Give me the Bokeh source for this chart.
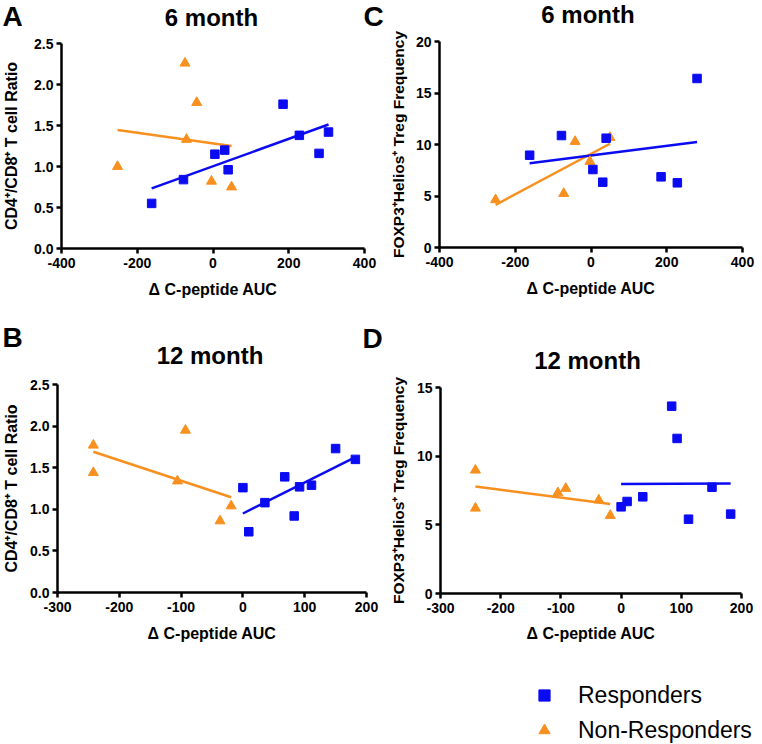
import numpy as np
from bokeh.plotting import figure
from bokeh.models import (Range1d, FixedTicker, PrintfTickFormatter,
                          Legend, LegendItem)
from bokeh.core.properties import value
from bokeh.layouts import column, row
from bokeh.embed import file_html
from bokeh.resources import INLINE

FONT = "Liberation Sans"
BLUE = "#0b0bf2"
ORANGE = "#f7901e"

# ---------------- data ----------------
# 6 month, CD4+/CD8+ ratio (panel A)
a_resp_x = [-162, -78, 5, 31, 40, 185, 228, 280, 305]
a_resp_y = [0.55, 0.84, 1.15, 1.20, 0.96, 1.76, 1.38, 1.16, 1.42]
a_non_x = [-252, -74, -43, -70, -4, 49]
a_non_y = [1.00, 2.26, 1.78, 1.33, 0.82, 0.75]

# 6 month, FOXP3+Helios+ Treg frequency (panel C)
c_resp_x = [-162, -78, 5, 31, 40, 185, 228, 280]
c_resp_y = [8.96, 10.87, 7.57, 6.34, 10.61, 6.86, 6.28, 16.41]
c_non_x = [-252, -72, -42, -3, 50]
c_non_y = [4.63, 5.24, 10.29, 8.35, 10.68]

# 12 month, CD4+/CD8+ ratio (panel B)
b_resp_x = [0, 9.5, 35.6, 67.7, 83, 91.7, 111, 150, 182]
b_resp_y = [1.26, 0.73, 1.08, 1.39, 0.92, 1.27, 1.29, 1.73, 1.60]
b_non_x = [-242, -242, -106, -93, -37, -19]
b_non_y = [1.77, 1.44, 1.34, 1.95, 0.86, 1.04]

# 12 month, FOXP3+Helios+ Treg frequency (panel D)
d_resp_x = [0, 10, 36, 84, 93, 112, 151, 182]
d_resp_y = [6.31, 6.70, 7.04, 13.64, 11.29, 5.41, 7.74, 5.78]
d_non_x = [-242, -242, -105, -92, -37, -18]
d_non_y = [8.98, 6.21, 7.33, 7.65, 6.80, 5.68]

x_ticks_6m = [-400, -200, 0, 200, 400]
x_ticks_12m = [-300, -200, -100, 0, 100, 200]
y_ticks_ratio = [0.0, 0.5, 1.0, 1.5, 2.0, 2.5]
y_ticks_treg_6m = [0, 5, 10, 15, 20]
y_ticks_treg_12m = [0, 5, 10, 15]

x_label = "\u0394 C-peptide AUC"
y_label_ratio = "CD4\u207a/CD8\u207a T cell Ratio"
y_label_treg = "FOXP3\u207aHelios\u207a Treg Frequency"
titles = ["6 month", "6 month", "12 month", "12 month"]
letters = ["A", "C", "B", "D"]
legend_labels = ["Responders", "Non-Responders"]


def fit_line(xs, ys):
    xs = np.asarray(xs, float)
    ys = np.asarray(ys, float)
    k, b = np.polyfit(xs, ys, 1)
    x0, x1 = xs.min(), xs.max()
    return [x0, x1], [k * x0 + b, k * x1 + b]


def panel(width, height, left, right, top, bottom, xr, xt, yr, yt, yfmt,
          ylab, ylab_size, ylab_standoff, xlab_standoff, rx, ry, nx, ny):
    p = figure(width=width, height=height,
               x_range=Range1d(*xr), y_range=Range1d(*yr),
               output_backend="svg", toolbar_location=None,
               min_border_left=left, min_border_right=right,
               min_border_top=top, min_border_bottom=bottom)
    p.outline_line_color = None
    p.grid.visible = False

    for ax in (p.xaxis[0], p.yaxis[0]):
        ax.axis_line_width = 2.5
        ax.axis_line_color = "black"
        ax.major_tick_line_width = 2.5
        ax.major_tick_line_color = "black"
        ax.major_tick_in = 0
        ax.major_tick_out = 5
        ax.minor_tick_line_color = None
        ax.major_label_text_font = FONT
        ax.major_label_text_font_style = "bold"
        ax.major_label_text_font_size = "14px"
        ax.major_label_text_color = "black"
        ax.axis_label_text_font = FONT
        ax.axis_label_text_font_style = "bold"
        ax.axis_label_text_font_size = "16px"
        ax.axis_label_text_color = "black"

    p.xaxis[0].ticker = FixedTicker(ticks=xt)
    p.xaxis[0].formatter = PrintfTickFormatter(format="%d")
    p.xaxis[0].major_label_standoff = 4
    p.xaxis[0].axis_label = x_label
    p.xaxis[0].axis_label_standoff = xlab_standoff

    p.yaxis[0].ticker = FixedTicker(ticks=yt)
    p.yaxis[0].formatter = PrintfTickFormatter(format=yfmt)
    p.yaxis[0].major_label_standoff = 3
    p.yaxis[0].axis_label = ylab
    p.yaxis[0].axis_label_text_font_size = ylab_size
    p.yaxis[0].axis_label_standoff = ylab_standoff

    lx, ly = fit_line(nx, ny)
    p.line(lx, ly, line_color=ORANGE, line_width=2.5)
    bx, by = fit_line(rx, ry)
    p.line(bx, by, line_color=BLUE, line_width=2.5)
    p.scatter(nx, ny, marker="triangle", size=10, fill_color=ORANGE,
              line_color=ORANGE)
    p.scatter(rx, ry, marker="square", size=8.5, fill_color=BLUE,
              line_color=BLUE)
    return p


def header(width, height, items):
    """items: (x, baseline_y, text, font_size, align)"""
    h = figure(width=width, height=height, x_range=Range1d(0, width),
               y_range=Range1d(height, 0), output_backend="svg",
               toolbar_location=None, min_border=0,
               x_axis_location=None, y_axis_location=None)
    h.grid.visible = False
    h.outline_line_color = None
    for (x, y, txt, size, align) in items:
        h.text(x=[x], y=[y], text=[txt], text_font=value(FONT),
               text_font_style="bold", text_font_size=size,
               text_align=align, text_baseline="alphabetic",
               text_color="black")
    return h


# layout (pixels): left column 386 wide, right column 376 wide
LW, RW = 386, 376
TOTAL_W = LW + RW

# frames: (left border, frame width, frame height)
A_L, A_W, A_H = 58, 306, 205
C_L, C_W, C_H = 47, 309, 206
B_L, B_W, B_H = 53, 313, 208
D_L, D_W, D_H = 47, 308, 206

# row heights of the two columns
HA, RA, HB, RB = 34, 268, 73, 271
HC, RC, HD, RD = 27, 275, 72, 272
LEG = 98
C_TOP, D_TOP = 41 - HC, 387 - (HC + RC + HD)

TITLE_SHIFT = 8     # baseline correction for 24px text glyphs
LETTER_SHIFT = 12   # baseline correction for 28px text glyphs

pA = panel(LW, RA, A_L, LW - A_L - A_W, 9, RA - 9 - A_H,
           (-400, 400), x_ticks_6m, (0, 2.5), y_ticks_ratio, "%.1f",
           y_label_ratio, "16px", 11, 10, a_resp_x, a_resp_y, a_non_x, a_non_y)
pC = panel(RW, RC, C_L, RW - C_L - C_W, C_TOP, RC - C_TOP - C_H,
           (-400, 400), x_ticks_6m, (0, 20), y_ticks_treg_6m, "%d",
           y_label_treg, "15.5px", 6, 10, c_resp_x, c_resp_y, c_non_x, c_non_y)
pB = panel(LW, RB, B_L, LW - B_L - B_W, 9, RB - 9 - B_H,
           (-300, 200), x_ticks_12m, (0, 2.5), y_ticks_ratio, "%.1f",
           y_label_ratio, "16px", 7, 10, b_resp_x, b_resp_y, b_non_x, b_non_y)
pD = panel(RW, RD, D_L, RW - D_L - D_W, D_TOP, RD - D_TOP - D_H,
           (-300, 200), x_ticks_12m, (0, 15), y_ticks_treg_12m, "%d",
           y_label_treg, "15.5px", 7, 9, d_resp_x, d_resp_y, d_non_x, d_non_y)

hA = header(LW, HA, [
    (A_L + A_W / 2, 25 - TITLE_SHIFT, titles[0], "24px", "center"),
    (2, 28 - LETTER_SHIFT, letters[0], "28px", "left"),
    (363, 28 - LETTER_SHIFT, letters[1], "28px", "left")])
hC = header(RW, HC, [
    (C_L + C_W / 2, 22 - TITLE_SHIFT, titles[1], "24px", "center")])
hB = header(LW, HB, [
    (B_L + B_W / 2, 61 - TITLE_SHIFT, titles[2], "24px", "center"),
    (2, 47 - LETTER_SHIFT, letters[2], "28px", "left"),
    (362, 48 - LETTER_SHIFT, letters[3], "28px", "left")])
hD = header(RW, HD, [
    (D_L + D_W / 2, 66 - TITLE_SHIFT, titles[3], "24px", "center")])

# legend strip
pL = figure(width=TOTAL_W, height=LEG, x_range=Range1d(-500, 500),
            y_range=Range1d(100, 120), output_backend="svg",
            toolbar_location=None, min_border=0,
            x_axis_location=None, y_axis_location=None)
pL.grid.visible = False
pL.outline_line_color = None
r1 = pL.scatter(a_resp_x, a_resp_y, marker="square", fill_color=BLUE,
                line_color=BLUE, visible=False)
r2 = pL.scatter(a_non_x, a_non_y, marker="triangle", fill_color=ORANGE,
                line_color=ORANGE, visible=False)
leg = Legend(items=[LegendItem(label=legend_labels[0], renderers=[r1]),
                    LegendItem(label=legend_labels[1], renderers=[r2])],
             location=(530, 0), glyph_width=28, glyph_height=28,
             label_standoff=20, spacing=7, padding=0, margin=0,
             border_line_color=None, background_fill_alpha=0,
             label_text_font=FONT, label_text_font_size="23px",
             label_text_color="black", click_policy="none")
pL.add_layout(leg)

# wrap each figure in its own row so that frames are not aligned
left_col = column(row(hA), row(pA), row(hB), row(pB))
right_col = column(row(hC), row(pC), row(hD), row(pD))
layout = column(row(left_col, right_col), row(pL))

open("out.html", "w").write(file_html(layout, INLINE))
